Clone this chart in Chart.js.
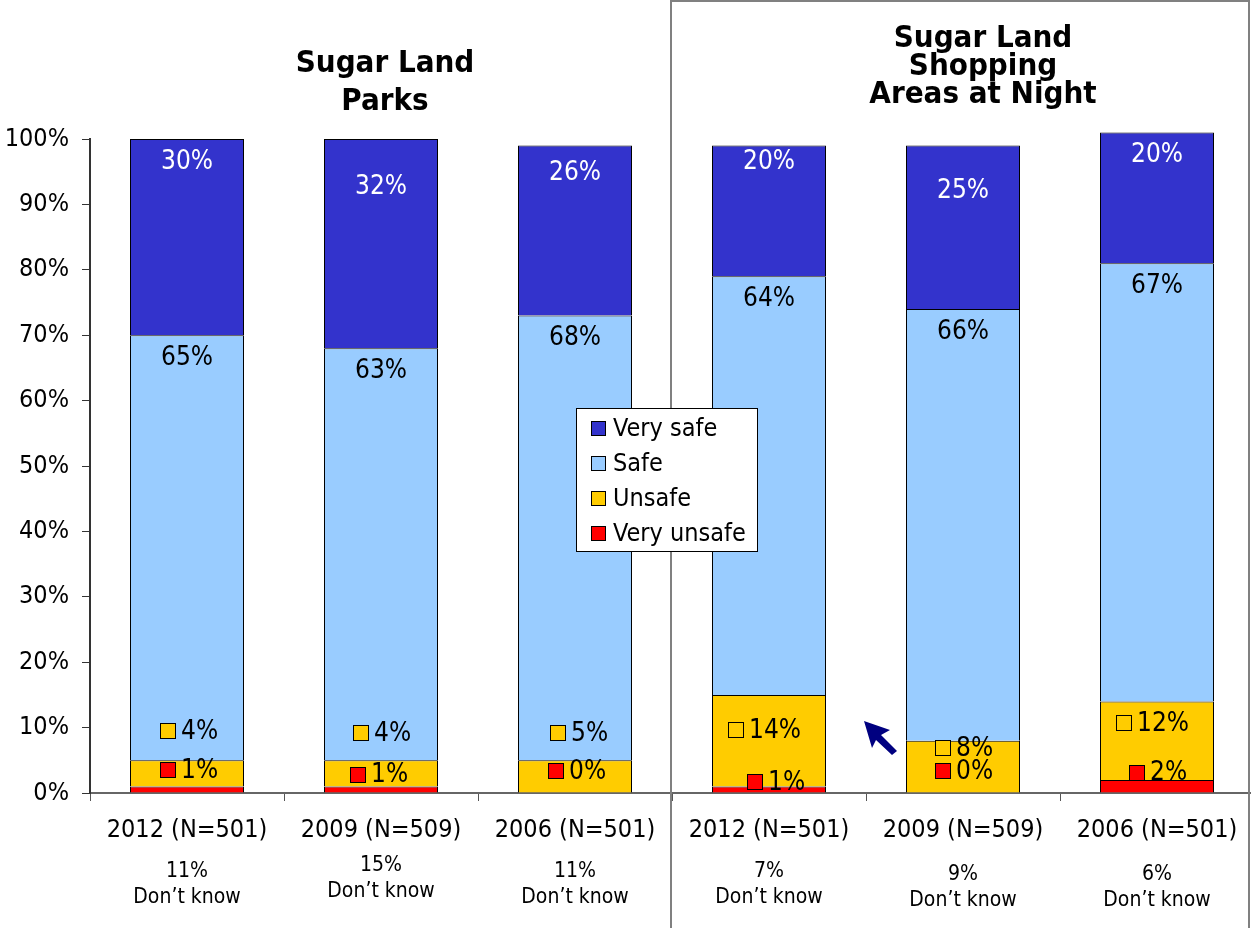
<!DOCTYPE html>
<html>
<head>
    <title>Sugar Land Safety</title>
    <script src="https://cdn.jsdelivr.net/npm/chart.js"></script>
    <style>
        html, body { margin: 0; padding: 0; background: #fff; overflow: hidden; }
        #wrap { width: 1255px; height: 928px; position: relative; }
    </style>
</head>
<body>
    <div id="wrap"><canvas id="safetyChart"></canvas></div>

    <script>
        const FONT = '"DejaVu Sans Condensed", "DejaVu Sans", sans-serif';

        const categories = ['2012 (N=501)', '2009 (N=509)', '2006 (N=501)', '2012 (N=501)', '2009 (N=509)', '2006 (N=501)'];
        const veryUnsafe = [1, 1, 0, 1, 0, 2];
        const unsafe = [4, 4, 5, 14, 8, 12];
        const safe = [65, 63, 68, 64, 66, 67];
        const verySafe = [30, 32, 26, 20, 25, 20];
        const dontKnow = [11, 15, 11, 7, 9, 6];
        const yTicks = [0, 10, 20, 30, 40, 50, 60, 70, 80, 90, 100];

        // hand-placed label nudges (px below segment top, or axis level for the small ones)
        const verySafeNudge = [23, 48, 28, 17, 46, 23];
        const unsafeAt = [{ v: 9.5, dx: -19 }, { v: 9.2, dx: -20 }, { v: 9.2, dx: -17 }, { v: 9.6, dx: -33 }, { v: 6.9, dx: -20 }, { v: 10.7, dx: -33 }];
        const veryUnsafeAt = [{ v: 3.5, dx: -19 }, { v: 2.8, dx: -23 }, { v: 3.4, dx: -19 }, { v: 1.7, dx: -14 }, { v: 3.4, dx: -20 }, { v: 3.1, dx: -20 }];
        const dkY = [872, 866, 872, 872, 875, 875];

        const colors = { verySafe: '#3333CC', safe: '#99CCFF', unsafe: '#FFCC00', veryUnsafe: '#FF0000' };

        function sq(ctx, cx, cy, size, fill) {
            const x0 = Math.round(cx - size / 2), y0 = Math.round(cy - size / 2);
            ctx.fillStyle = fill;
            ctx.fillRect(x0, y0, size, size);
            ctx.strokeStyle = '#000';
            ctx.lineWidth = 1;
            ctx.strokeRect(x0 + 0.5, y0 + 0.5, size - 1, size - 1);
        }

        const decorations = {
            id: 'decorations',
            beforeDatasetsDraw(chart) {
                const ctx = chart.ctx;
                ctx.save();
                // frame around the shopping-area panel
                ctx.strokeStyle = '#808080';
                ctx.lineWidth = 2;
                ctx.beginPath();
                ctx.moveTo(671, 928);
                ctx.lineTo(671, 1);
                ctx.lineTo(1249, 1);
                ctx.lineTo(1249, 928);
                ctx.stroke();
                ctx.restore();
            },
            afterDatasetsDraw(chart) {
                const ctx = chart.ctx;
                const y = chart.scales.y;
                const metaVU = chart.getDatasetMeta(0);
                const metaS = chart.getDatasetMeta(2);
                const metaVS = chart.getDatasetMeta(3);
                ctx.save();
                ctx.textBaseline = 'middle';

                categories.forEach((c, i) => {
                    const x = metaVU.data[i].x;
                    ctx.font = '26px ' + FONT;
                    // very safe: white, near the top of the bar
                    ctx.fillStyle = '#fff';
                    ctx.textAlign = 'center';
                    ctx.fillText(verySafe[i] + '%', x, metaVS.data[i].y + verySafeNudge[i]);
                    // safe
                    ctx.fillStyle = '#000';
                    ctx.fillText(safe[i] + '%', x, metaS.data[i].y + 23);
                    // unsafe / very unsafe with legend key squares
                    ctx.textAlign = 'left';
                    const u = unsafeAt[i];
                    const uy = y.getPixelForValue(u.v);
                    sq(ctx, x + u.dx, uy, 16, colors.unsafe);
                    ctx.fillStyle = '#000';
                    ctx.fillText(unsafe[i] + '%', x + u.dx + 13, uy + 1);
                    const vu = veryUnsafeAt[i];
                    const vuy = y.getPixelForValue(vu.v);
                    sq(ctx, x + vu.dx, vuy, 16, colors.veryUnsafe);
                    ctx.fillStyle = '#000';
                    ctx.fillText(veryUnsafe[i] + '%', x + vu.dx + 13, vuy + 1);

                    // don't know share under each category
                    ctx.textAlign = 'center';
                    ctx.font = '21px ' + FONT;
                    ctx.fillText(dontKnow[i] + '%', x, dkY[i]);
                    ctx.fillText('Don\u2019t know', x, dkY[i] + 26);
                });

                // panel titles
                ctx.fillStyle = '#000';
                ctx.textAlign = 'center';
                ctx.font = 'bold 31px ' + FONT;
                ctx.fillText('Sugar Land', 385, 64);
                ctx.fillText('Parks', 385, 102);
                ctx.fillText('Sugar Land', 983, 39);
                ctx.fillText('Shopping', 983, 67);
                ctx.fillText('Areas at Night', 983, 95);

                // arrow
                ctx.fillStyle = '#000080';
                ctx.beginPath();
                ctx.moveTo(864, 721);
                ctx.lineTo(890, 730);
                ctx.lineTo(881, 735);
                ctx.lineTo(897, 751);
                ctx.lineTo(892, 755);
                ctx.lineTo(876, 740);
                ctx.lineTo(872, 748);
                ctx.closePath();
                ctx.fill();

                // legend
                ctx.fillStyle = '#fff';
                ctx.fillRect(576, 408, 181, 143);
                ctx.strokeStyle = '#000';
                ctx.lineWidth = 1;
                ctx.strokeRect(576.5, 408.5, 181, 143);
                ctx.font = '25px ' + FONT;
                ctx.textAlign = 'left';
                const order = [3, 2, 1, 0];
                order.forEach((d, k) => {
                    const ds = chart.data.datasets[d];
                    const ly = 428 + k * 35.3;
                    sq(ctx, 598, ly, 15, ds.backgroundColor);
                    ctx.fillStyle = '#000';
                    ctx.fillText(ds.label, 613, ly + 1);
                });
                ctx.restore();
            }
        };

        const ctx = document.getElementById('safetyChart').getContext('2d');
        new Chart(ctx, {
            type: 'bar',
            data: {
                labels: categories,
                datasets: [
                    { label: 'Very unsafe', data: veryUnsafe, backgroundColor: colors.veryUnsafe },
                    { label: 'Unsafe', data: unsafe, backgroundColor: colors.unsafe },
                    { label: 'Safe', data: safe, backgroundColor: colors.safe },
                    { label: 'Very safe', data: verySafe, backgroundColor: colors.verySafe }
                ]
            },
            options: {
                responsive: true,
                maintainAspectRatio: false,
                animation: false,
                layout: { padding: { top: 139, right: 1, left: 0, bottom: 0 } },
                datasets: {
                    bar: { borderColor: '#000', borderWidth: 1, barPercentage: 114 / 194, categoryPercentage: 1, clip: false }
                },
                scales: {
                    x: {
                        stacked: true,
                        afterFit: s => { s.height = 135; },
                        grid: { offset: true, drawOnChartArea: false, tickLength: 8, color: '#555' },
                        border: { color: '#666', width: 2 },
                        ticks: { color: '#000', padding: 14, font: { family: FONT, size: 25 } }
                    },
                    y: {
                        stacked: true,
                        min: 0,
                        max: 100,
                        afterFit: s => { s.width = 90; },
                        afterBuildTicks: s => { s.ticks = yTicks.map(v => ({ value: v })); },
                        grid: { drawOnChartArea: false, tickLength: 8, color: '#333' },
                        border: { color: '#333', width: 2 },
                        ticks: { color: '#000', padding: 13, font: { family: FONT, size: 25 }, callback: v => v + '%' }
                    }
                },
                plugins: {
                    legend: { display: false },
                    tooltip: { enabled: false }
                }
            },
            plugins: [decorations]
        });
    </script>
</body>
</html>
